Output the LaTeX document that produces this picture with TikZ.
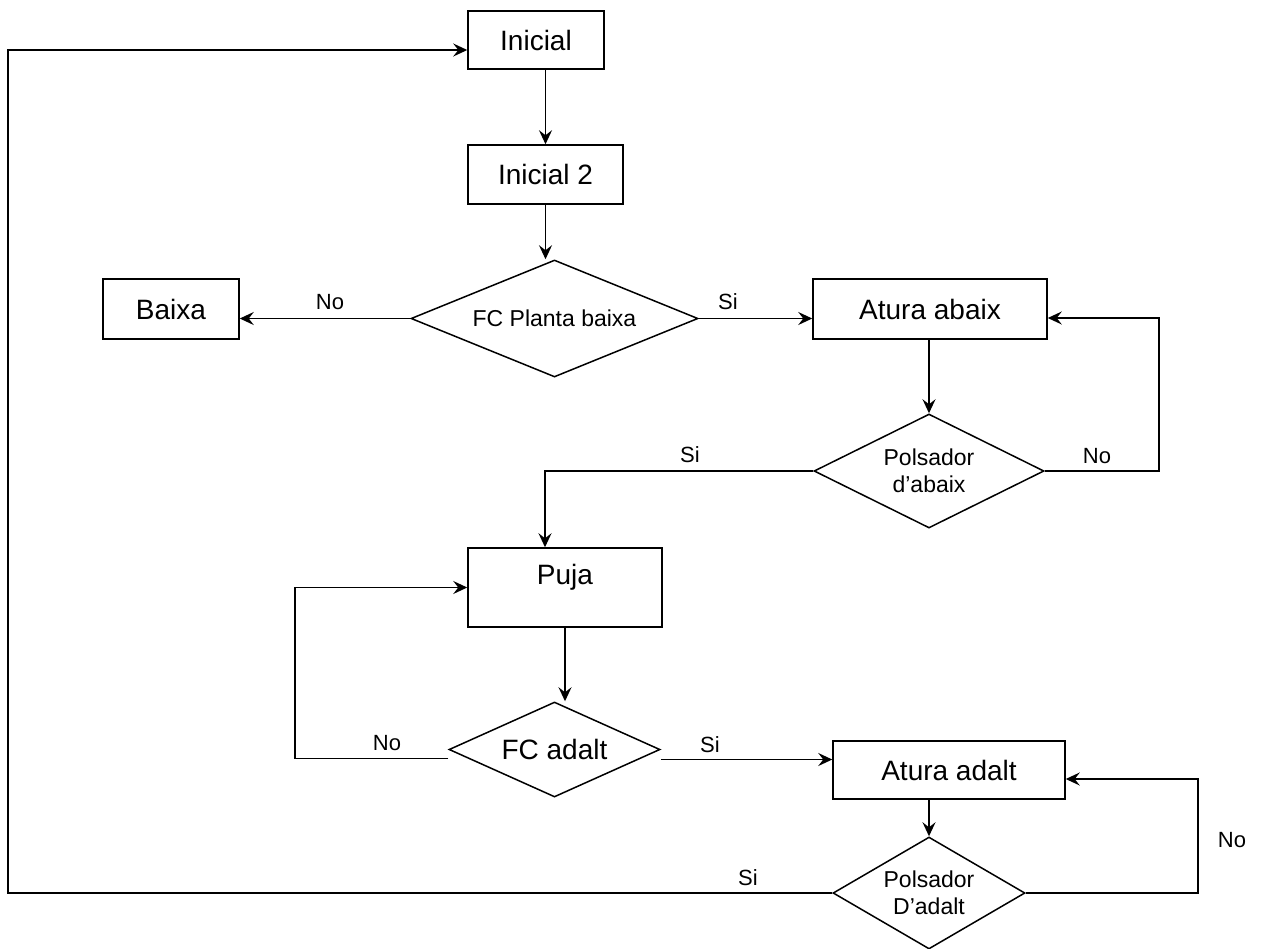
\documentclass[tikz,border=0pt]{standalone}
\usepackage{fontspec}
\setmainfont{Liberation Sans}
\usetikzlibrary{shapes.geometric,arrows.meta,calc}
\begin{document}
\begin{tikzpicture}[x=0.5pt,y=-0.5pt,
  line width=0.75pt,
  box/.style={draw, rectangle, inner sep=0pt, font=\fontsize{14}{17}\selectfont},
  dec/.style={draw, diamond, inner sep=0pt, align=center, font=\fontsize{11.5}{13.5}\selectfont},
  lbl/.style={inner sep=0pt, font=\fontsize{11}{13}\selectfont},
  arr/.style={-{Stealth[length=7pt,width=6.5pt,inset=2.5pt]}}]
\useasboundingbox (0,0) rectangle (1262,948);

\node[box, minimum width=68pt, minimum height=29pt] (ini) at (536,40) {Inicial};
\node[box, minimum width=77.5pt, minimum height=29.5pt] (ini2) at (545.5,174.5) {Inicial 2};
\node[dec, aspect=2.45, minimum width=143.5pt, minimum height=58.5pt] (fcpb) at (554.5,318.5) {FC Planta baixa};
\node[box, minimum width=68pt, minimum height=30pt] (baixa) at (171,309) {Baixa};
\node[box, minimum width=117pt, minimum height=30pt] (atab) at (930,309) {Atura abaix};
\node[dec, aspect=2.02, minimum width=115pt, minimum height=57pt] (polab) at (929,471) {Polsador\\d’abaix};
\node[box, minimum width=97pt, minimum height=39.5pt, text depth=13.5pt] (puja) at (565,587.5) {Puja};
\node[dec, aspect=2.22, minimum width=105.5pt, minimum height=47.5pt, font=\fontsize{14}{17}\selectfont] (fcad) at (554.5,749.5) {FC adalt};
\node[box, minimum width=116pt, minimum height=29pt] (atad) at (949,770) {Atura adalt};
\node[dec, aspect=1.71, minimum width=96pt, minimum height=56pt] (polad) at (929,893) {Polsador\\D’adalt};

\coordinate (nab) at (1159,318);
\coordinate (sab) at (545,471);
\coordinate (loopL) at (295,587.5);
\coordinate (nad) at (1198,779);
\coordinate (back) at (8,50);

\draw[arr] (ini.south -| ini2.north) -- (ini2.north);
\draw[arr] (ini2.south) -- (ini2.south |- fcpb.north);
\draw[arr] (fcpb.west) -- (fcpb.west -| baixa.east);
\draw[arr] (fcpb.east) -- (fcpb.east -| atab.west);
\draw[arr] (atab.south -| polab.north) -- (polab.north);
\draw[arr] (polab.east) -| (nab) -- (nab -| atab.east);
\draw[arr] (polab.west) -- (sab) -- (sab |- puja.north);
\draw[arr] (puja.south) -- (puja.south |- fcad.north);
\draw[arr] ($(fcad.west)+(0,9)$) -| (loopL) -- (puja.west);
\draw[arr] ($(fcad.east)+(0,10)$) coordinate (s2) -- (s2 -| atad.west);
\draw[arr] (polad.north |- atad.south) -- (polad.north);
\draw[arr] (polad.east) -| (nad) -- (nad -| atad.east);
\draw[arr] (polad.west) -| (back) -- (back -| ini.west);

\node[lbl] (l1) at (330,302) {No};
\node[lbl] (l2) at (728,302) {Si};
\node[lbl] (l3) at (1097,456) {No};
\node[lbl] (l4) at (690,455) {Si};
\node[lbl] (l5) at (387,743) {No};
\node[lbl] (l6) at (710,745) {Si};
\node[lbl] (l7) at (1232,840) {No};
\node[lbl] (l8) at (748,878) {Si};
\end{tikzpicture}
\end{document}
